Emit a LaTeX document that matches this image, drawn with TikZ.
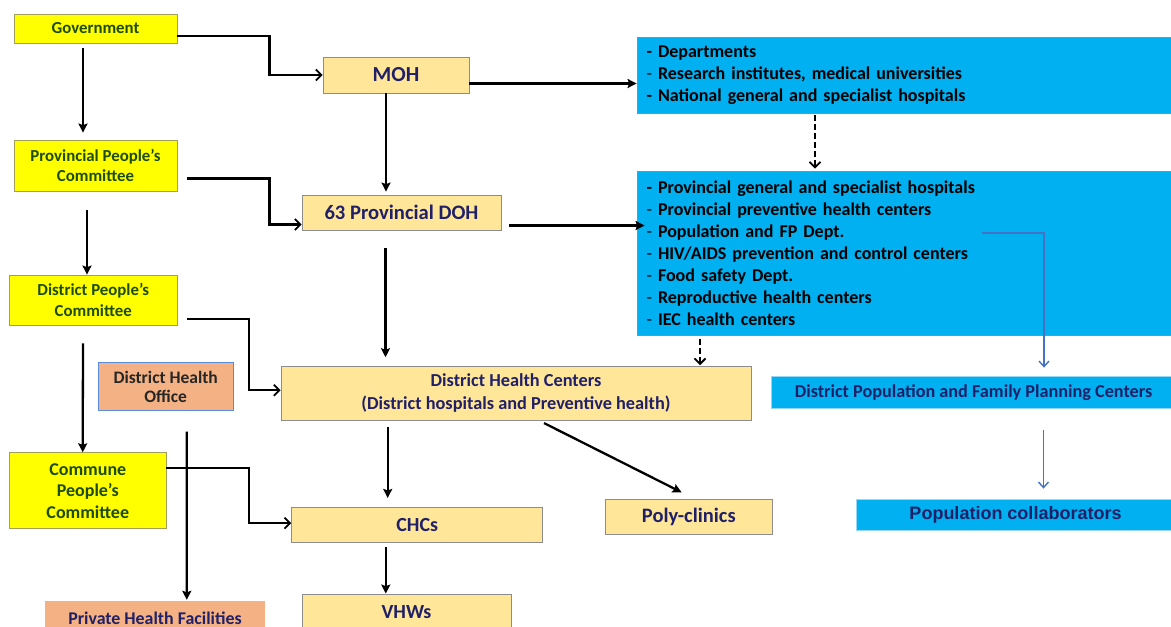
\documentclass[tikz,border=0pt]{standalone}
\usepackage{fontspec}
\setmainfont{Carlito}
\newfontfamily\arialfont{Liberation Sans}
\usetikzlibrary{arrows.meta}
\definecolor{ylw}{RGB}{255,255,0}
\definecolor{tan}{RGB}{255,230,153}
\definecolor{cyanbox}{RGB}{0,176,240}
\definecolor{salmon}{RGB}{244,177,131}
\definecolor{grn}{RGB}{30,75,5}
\definecolor{navy}{RGB}{32,32,104}
\definecolor{edgegray}{RGB}{140,140,140}
\definecolor{ybord}{RGB}{160,160,90}
\definecolor{lightblue}{RGB}{150,215,245}
\definecolor{bluearrow}{RGB}{68,114,196}
\definecolor{dhoedge}{RGB}{91,140,220}
\tikzset{
  box/.style={rectangle, inner sep=0pt, align=center, font=\bfseries},
  ybox/.style={box, fill=ylw, draw=ybord, line width=0.8pt, text=grn},
  tbox/.style={box, fill=tan, draw=edgegray, line width=0.8pt, text=navy},
  cbox/.style={box, fill=cyanbox, draw=edgegray, line width=0.8pt, text=black, align=left, inner xsep=9.5pt},
  lbox/.style={box, fill=cyanbox, draw=lightblue, line width=0.8pt, text=navy},
  sbox/.style={box, fill=salmon},
  conn/.style={line width=2.3pt, -{Stealth[length=9pt,width=9pt,inset=1.5pt]}},
  oconn/.style={line width=2.3pt, -{Straight Barb[length=5.5pt,width=11pt,line width=1.8pt]}},
  dconn/.style={line width=2.3pt, dash pattern=on 6pt off 3pt, -{Straight Barb[length=5.5pt,width=11pt,line width=1.8pt]}},
  bconn/.style={line width=1.5pt, draw=bluearrow, -{Straight Barb[length=5.5pt,width=10pt,line width=1.4pt]}}
}
\newcommand{\ld}{\textmd{-}}
\begin{document}
\begin{tikzpicture}[x=1pt,y=-1pt]
\path[fill=white,use as bounding box] (0,0) rectangle (1171,627);

% nodes
\node[ybox, minimum width=163, minimum height=29, font=\bfseries\fontsize{16.8}{20.7}\selectfont] (gov) at (95.5,28.5) {Government};
\node[tbox, minimum width=146, minimum height=36, font=\bfseries\fontsize{21.4}{24}\selectfont] (moh) at (396,75) {MOH};
\node[cbox, minimum width=538, minimum height=76, text width=519, font=\bfseries\fontsize{18}{22}\selectfont] (blue1) at (906,75) {- Departments\\\ld{} Research institutes, medical universities\\- National general and specialist hospitals};

\node[ybox, minimum width=163, minimum height=51, font=\bfseries\fontsize{16.8}{20.7}\selectfont] (ppc) at (95.5,165.5) {Provincial People’s\\Committee};
\node[tbox, minimum width=199, minimum height=35, font=\bfseries\fontsize{20.6}{24}\selectfont] (doh) at (401.5,212.5) {63 Provincial DOH};
\node[cbox, minimum width=538, minimum height=164, text width=519, font=\bfseries\fontsize{18}{22}\selectfont] (blue2) at (906,253) {- Provincial general and specialist hospitals\\\ld{} Provincial preventive health centers\\\ld{} Population and FP Dept.\\\ld{} HIV/AIDS prevention and control centers\\\ld{} Food safety Dept.\\\ld{} Reproductive health centers\\\ld{} IEC health centers};

\node[ybox, minimum width=167.4, minimum height=50, font=\bfseries\fontsize{16.8}{20.7}\selectfont] (dpc) at (93.3,300) {District People’s\\Committee};
\node[sbox, draw=dhoedge, line width=1pt, minimum width=135.4, minimum height=48, text=black!85, font=\bfseries\fontsize{17.5}{19.5}\selectfont] (dho) at (165.7,386.7) {District Health\\Office};
\node[tbox, minimum width=470, minimum height=53.3, font=\bfseries\fontsize{18.3}{22.6}\selectfont] (dhc) at (516,393.3) {District Health Centers\\(District hospitals and Preventive health)};
\node[lbox, minimum width=404, minimum height=31.6, font=\bfseries\fontsize{18.2}{22}\selectfont] (dpfp) at (973.5,392.5) {District Population and Family Planning Centers};

\node[ybox, minimum width=156.4, minimum height=76, font=\bfseries\fontsize{18}{21.5}\selectfont] (cpc) at (87.8,490.7) {Commune\\People’s\\Committee};
\node[tbox, minimum width=251, minimum height=34.7, font=\bfseries\fontsize{20}{24}\selectfont] (chc) at (417.2,524.7) {CHCs};
\node[tbox, minimum width=167.4, minimum height=35.4, font=\bfseries\fontsize{20.5}{24}\selectfont] (poly) at (688.8,517) {Poly-clinics};
\node[lbox, minimum width=319, minimum height=31.4, font=\arialfont\bfseries\fontsize{18}{22}\selectfont] (popc) at (1015.5,515) {Population collaborators};

\node[tbox, minimum width=209, minimum height=36, font=\bfseries\fontsize{20}{24}\selectfont] (vhw) at (406.5,612) {VHWs};
\node[sbox, minimum width=220, minimum height=34, text=navy, font=\bfseries\fontsize{17.9}{22}\selectfont] (phf) at (155,618) {Private Health Facilities};

% connectors
\draw[oconn] ([yshift=-7.5]gov.east) -| ([xshift=-53]moh.west) -- (moh.west);
\draw[conn] ([xshift=-12.5,yshift=-5]gov.south) -- ([xshift=-12.5,yshift=7]ppc.north);
\draw[conn] ([yshift=-8.5]moh.east) -- ([yshift=-8.5]moh.east -| blue1.west);
\draw[conn] ([xshift=-10]moh.south) -- ([xshift=-15.5,yshift=3]doh.north);
\draw[dconn] ([xshift=-91,yshift=-2]blue1.south) -- ([xshift=-91,yshift=2]blue2.north);

\draw[oconn] ([xshift=10,yshift=-13]ppc.east) -| ([xshift=-32,yshift=-12]doh.west) -- ([yshift=-12]doh.west);
\draw[conn] ([xshift=8,yshift=-13]doh.east) -- ([xshift=8,yshift=-13]doh.east -| blue2.west);
\draw[conn] ([xshift=-8.5,yshift=-19]ppc.south) -- ([xshift=-6.3]dpc.north);
\draw[conn] ([xshift=-16,yshift=-18]doh.south) -- ([xshift=-130.5,yshift=9]dhc.north);
\draw[dconn] ([xshift=-206,yshift=-4]blue2.south) -- ([xshift=184,yshift=1]dhc.north);
\draw[bconn] ([xshift=76,yshift=20]blue2.center) -| ([xshift=70.5,yshift=8.7]dpfp.north);
\draw[bconn] ([xshift=70,yshift=-21.7]dpfp.south) -- ([xshift=28,yshift=10.3]popc.north);

\draw[oconn] ([xshift=10,yshift=-19]dpc.east) -| ([xshift=-31.5,yshift=3]dhc.west) -- ([yshift=3]dhc.west);
\draw[conn] ([xshift=-10.3,yshift=-18]dpc.south) -- ([xshift=-5.1]cpc.north);
\draw[conn] ([xshift=-128.3,yshift=-6.7]dhc.south) -- ([xshift=-29.5,yshift=9]chc.north);
\draw[conn] ([xshift=28,yshift=-2.7]dhc.south) -- ([xshift=-7.2,yshift=6.6]poly.north);
\draw[oconn] ([yshift=22.4]cpc.east) -| ([xshift=-42,yshift=1.6]chc.west) -- ([yshift=1.6]chc.west);
\draw[conn] ([xshift=21,yshift=-20.3]dho.south) -- ([xshift=31.8,yshift=1]phf.north);
\draw[conn] ([xshift=-31.4,yshift=-5]chc.south) -- ([xshift=-20.7]vhw.north);
\end{tikzpicture}
\end{document}
